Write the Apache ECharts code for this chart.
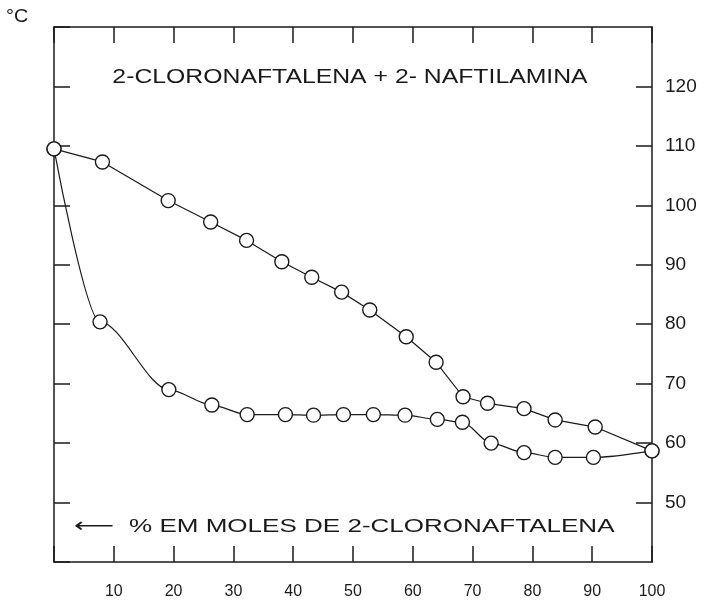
<!DOCTYPE html>
<html>
<head>
<meta charset="utf-8">
<script src="https://cdn.jsdelivr.net/npm/echarts@6/dist/echarts.min.js"></script>
<style>
  html, body { margin: 0; padding: 0; background: #fff; }
  #chart { width: 708px; height: 604px; }
</style>
</head>
<body>
<div id="chart"></div>
<script>
"use strict";

// % em moles de 2-cloronaftalena, and temperature (°C)
var liquidusX = [0, 8.1, 19.1, 26.2, 32.2, 38.1, 43.1, 48.1, 52.8, 58.9, 63.9, 68.4, 72.5, 78.6, 83.8, 90.5, 100];
var liquidusT = [109.5, 107.3, 100.8, 97.2, 94.1, 90.5, 87.9, 85.4, 82.4, 77.9, 73.6, 67.8, 66.7, 65.8, 63.9, 62.7, 58.7];

var solidusX = [0, 7.7, 19.2, 26.4, 32.3, 38.7, 43.4, 48.4, 53.4, 58.7, 64.1, 68.3, 73.1, 78.6, 83.8, 90.2, 100];
var solidusT = [109.5, 80.4, 69.0, 66.4, 64.8, 64.8, 64.7, 64.8, 64.8, 64.7, 64.0, 63.5, 60.0, 58.4, 57.6, 57.6, 58.7];

// axis ranges and tick step; labels run 10..100 and 50..120
var xRange = [0, 100];
var yRange = [40, 130];
var step = 10;

var titleText = "2-CLORONAFTALENA + 2- NAFTILAMINA";
var xAxisText = "% EM MOLES DE 2-CLORONAFTALENA";
var unitText = "°C";

function pairs(xs, ys) {
  return xs.map(function (x, i) { return [x, ys[i]]; });
}

var ink = "#1a1a1a";
var chart = echarts.init(document.getElementById("chart"));

function ticks(inside) {
  return { show: true, inside: inside !== false, length: 16, lineStyle: { color: ink, width: 1.5 } };
}
function border() {
  return { show: true, onZero: false, lineStyle: { color: ink, width: 1.5 } };
}
var box = { left: 54, right: 56, top: 27, bottom: 42 };
var plotHeight = 604 - box.top - box.bottom;

// grid 0 holds the data with bottom/left frame,
// grid 1 (same box) carries the top/right frame and the tick labels
var option = {
  animation: false,
  backgroundColor: "#fff",
  grid: [
    Object.assign({}, box),
    Object.assign({}, box)
  ],
  xAxis: [
    {
      gridIndex: 0, type: "value", position: "bottom", min: xRange[0], max: xRange[1], interval: step,
      axisLine: border(), axisTick: ticks(), axisLabel: { show: false }, splitLine: { show: false }
    },
    // the bottom ticks: a top-side axis pushed down onto the bottom edge, ticks pointing up
    {
      gridIndex: 0, type: "value", position: "top", offset: -plotHeight,
      min: xRange[0], max: xRange[1], interval: step,
      axisLine: { show: false, onZero: false }, axisTick: ticks(false), axisLabel: { show: false }, splitLine: { show: false }
    },
    {
      gridIndex: 1, type: "value", position: "bottom", min: xRange[0], max: xRange[1], interval: step,
      axisLine: { show: false, onZero: false }, axisTick: { show: false }, splitLine: { show: false },
      axisLabel: {
        margin: 22, color: ink, fontSize: 16, fontFamily: "Liberation Sans",
        showMinLabel: false, showMaxLabel: true
      }
    },
    {
      gridIndex: 1, type: "value", position: "top", min: xRange[0], max: xRange[1], interval: step,
      axisLine: border(), axisTick: ticks(), axisLabel: { show: false }, splitLine: { show: false }
    }
  ],
  yAxis: [
    {
      gridIndex: 0, type: "value", position: "left", min: yRange[0], max: yRange[1], interval: step,
      axisLine: border(), axisTick: ticks(), axisLabel: { show: false }, splitLine: { show: false }
    },
    {
      gridIndex: 1, type: "value", position: "right", min: yRange[0], max: yRange[1], interval: step,
      axisLine: border(), axisTick: ticks(), splitLine: { show: false },
      axisLabel: {
        margin: 13, color: ink, fontSize: 19, fontFamily: "Liberation Sans",
        padding: [0, 0, 10, 0], showMinLabel: false, showMaxLabel: false
      }
    }
  ],
  graphic: [
    {
      type: "text", x: 6, y: 17, scaleX: 1.1,
      style: { text: unitText, fill: ink, font: "18px Liberation Sans", textAlign: "left", verticalAlign: "middle", textVerticalAlign: "middle" }
    },
    {
      type: "text", x: 350, y: 77, scaleX: 1.18,
      style: { text: titleText, fill: ink, font: "21px Liberation Sans", textAlign: "center", verticalAlign: "middle", textVerticalAlign: "middle" }
    },
    {
      type: "text", x: 74, y: 527, scaleX: 1.4,
      style: { text: "⟵", fill: ink, font: "20px DejaVu Sans", textAlign: "left", verticalAlign: "middle", textVerticalAlign: "middle" }
    },
    {
      type: "text", x: 129, y: 527, scaleX: 1.37,
      style: { text: xAxisText, fill: ink, font: "19px Liberation Sans", textAlign: "left", verticalAlign: "middle", textVerticalAlign: "middle" }
    }
  ],
  series: [
    // liquidus
    {
      type: "line", xAxisIndex: 0, yAxisIndex: 0,
      data: pairs(liquidusX, liquidusT),
      symbol: "circle", symbolSize: 14,
      itemStyle: { color: "#fff", borderColor: ink, borderWidth: 1.4 },
      lineStyle: { color: ink, width: 1.2 }
    },
    // solidus
    {
      type: "line", xAxisIndex: 0, yAxisIndex: 0,
      data: pairs(solidusX, solidusT),
      smooth: 0.3, smoothMonotone: "x",
      symbol: "circle", symbolSize: 14,
      itemStyle: { color: "#fff", borderColor: ink, borderWidth: 1.4 },
      lineStyle: { color: ink, width: 1.2 }
    }
  ]
};

option && chart.setOption(option);
</script>
</body>
</html>
